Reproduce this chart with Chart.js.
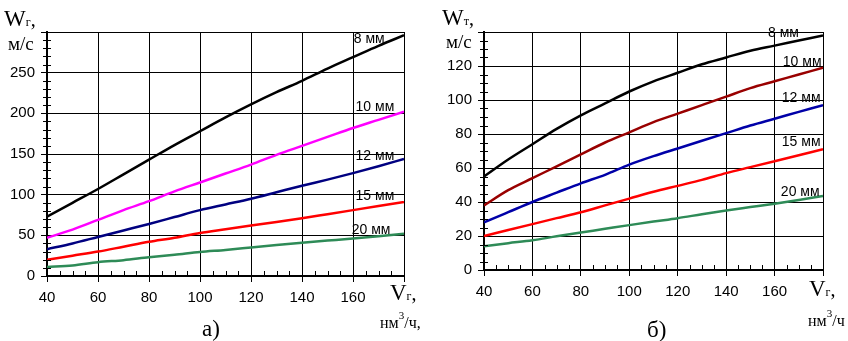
<!DOCTYPE html>
<html><head><meta charset="utf-8">
<script src="https://cdn.jsdelivr.net/npm/chart.js@4/dist/chart.umd.min.js"></script>
<style>
html,body{margin:0;padding:0;background:#fff;}
#wrap{position:relative;width:848px;height:341px;overflow:hidden;}
canvas{position:absolute;top:0;}
#c1{left:0;} #c2{left:424px;}
</style></head>
<body><div id="wrap"><canvas id="c1" width="424" height="341"></canvas><canvas id="c2" width="424" height="341"></canvas></div>
<script>
// Gas flow, нм3/ч
const flowX = [40,50,60,70,80,90,100,110,120,130,140,150,160,170,180];
// Chart а) W_г, м/с
const a8  = [73,90,107,125,143,161,178,195,211,226,240,255,269,283,296];
const a10 = [47,57,69,81,92,104,115,126,137,149,160,171,182,192,202];
const a12 = [33,40,48,56,64,72.5,81,88,95,103,111,118.5,126.5,135,144];
const a15 = [20,25,30,36,42,47,53,57.5,62,66.5,71,76,81,86,91];
const a20 = [11,13,17,19.5,23,26,29.5,32,35,38,41,43.5,46,49,52];
// Chart б) W_т, м/с
const b8  = [55,65,74,83,91,98,105,111,116,121,125,129,132,135,138];
const b10 = [38,47,54,61,68,75,81,87,92,97,102,107,111,115,119];
const b12 = [28,34,40,45.5,51,56,62,67,71.5,76,80.5,85,89,93,97];
const b15 = [20,23.5,27,30.5,34,38,42,46,49.5,53,57,60.5,64,67.5,71];
const b20 = [14,15.8,17.5,19.8,22,24.2,26.4,28.5,30.5,32.8,35,37,39,41.2,43.5];
const seriesNames = ['8 мм','10 мм','12 мм','15 мм','20 мм'];
const xTicks = [40,60,80,100,120,140,160];
const yTicksA = [0,50,100,150,200,250];
const yTicksB = [0,20,40,60,80,100,120];

const SANS = '"Liberation Sans", Arial, sans-serif';
const SERIF = '"Liberation Serif", "Times New Roman", serif';

function ds(vals, color){
  return {data: flowX.map((x,i)=>({x:x,y:vals[i]})), borderColor: color, borderWidth: 2.5,
    pointRadius: 0, fill:false, cubicInterpolationMode:'monotone', tension:0.4};
}

function makeChart(id, cfg){
  const overlay = {
    id:'overlay',
    afterDraw(chart){
      const ctx = chart.ctx, xs = chart.scales.x, ys = chart.scales.y, ca = chart.chartArea;
      ctx.save();
      ctx.strokeStyle = '#000'; ctx.lineWidth = 1;
      for(let v=0; v<=cfg.ymax; v+=cfg.yminor){
        if(v % cfg.ystep === 0) continue;
        const p = Math.round(ys.getPixelForValue(v))+0.5;
        ctx.beginPath(); ctx.moveTo(ca.left-4,p); ctx.lineTo(ca.left+4,p); ctx.stroke();
      }
      for(let v=40; v<=180; v+=5){
        if(v % 20 === 0) continue;
        const p = Math.round(xs.getPixelForValue(v))+0.5;
        ctx.beginPath(); ctx.moveTo(p,ca.bottom); ctx.lineTo(p,ca.bottom-5); ctx.stroke();
      }
      ctx.fillStyle = '#000'; ctx.font = '14px ' + SANS; ctx.textBaseline = 'middle'; ctx.textAlign='left';
      cfg.labels.forEach((l,i)=>{
        ctx.fillText(seriesNames[i], xs.getPixelForValue(l[0]), ys.getPixelForValue(l[1]));
      });
      ctx.textBaseline = 'alphabetic';
      const t = cfg.titles;
      ctx.font = '23px ' + SERIF; ctx.fillText('W', t.wx, t.wy);
      let wW = ctx.measureText('W').width;
      ctx.font = '12px ' + SERIF; ctx.fillText(cfg.sub, t.wx+wW, t.wy);
      let sw = ctx.measureText(cfg.sub).width;
      ctx.font = '20px ' + SERIF; ctx.fillText(',', t.wx+wW+sw, t.wy);
      ctx.font = '19px ' + SERIF; ctx.fillText('м/с', t.mx, t.my);
      ctx.font = '23px ' + SERIF; ctx.fillText('V', t.vx, t.vy);
      let vW = ctx.measureText('V').width;
      ctx.font = '12px ' + SERIF; ctx.fillText('г', t.vx+vW, t.vy);
      let gw = ctx.measureText('г').width;
      ctx.font = '20px ' + SERIF; ctx.fillText(',', t.vx+vW+gw, t.vy);
      ctx.font = '16px ' + SERIF; ctx.fillText('нм', t.nx, t.ny);
      let nw = ctx.measureText('нм').width;
      ctx.font = '11px ' + SERIF; ctx.fillText('3', t.nx+nw, t.ny-9);
      let tw = ctx.measureText('3').width;
      ctx.font = '16px ' + SERIF; ctx.fillText(cfg.unitTail, t.nx+nw+tw, t.ny);
      ctx.font = '23px ' + SERIF; ctx.fillText(cfg.caption, t.cx, t.cy);
      ctx.restore();
    }
  };
  return new Chart(document.getElementById(id), {
    type:'line',
    data:{datasets: cfg.data},
    options:{
      responsive:false, animation:false, devicePixelRatio:1,
      layout:{padding:{top:32, right:cfg.padRight, left:0, bottom:0}},
      plugins:{legend:{display:false}, tooltip:{enabled:false}},
      scales:{
        x:{type:'linear', min:40, max:180,
          afterBuildTicks(s){ s.ticks = [40,60,80,100,120,140,160,180].map(v=>({value:v})); },
          afterFit(s){ s.height = cfg.xh; },
          ticks:{color:'#000', font:{family:SANS, size:15}, padding:7, maxRotation:0,
            callback:(v)=> xTicks.includes(v) ? String(v) : ''},
          grid:{color:'#000', lineWidth:1, tickLength:6, tickColor:'#000'},
          border:{color:'#000', width:2}},
        y:{type:'linear', min:0, max:cfg.ymax,
          afterBuildTicks(s){ const a=[]; for(let v=0; v<=cfg.ymax; v+=cfg.ystep) a.push({value:v}); s.ticks=a; },
          afterFit(s){ s.width = cfg.yw; },
          ticks:{color:'#000', font:{family:SANS, size:15}, padding:6,
            callback:(v)=> cfg.yTicks.includes(v) ? String(v) : ''},
          grid:{color:'#000', lineWidth:1, tickLength:6, tickColor:'#000'},
          border:{color:'#000', width:2}}
      }
    },
    plugins:[overlay]
  });
}

makeChart('c1', {
  data:[ds(a8,'#000000'), ds(a10,'#ff00ff'), ds(a12,'#000080'), ds(a15,'#ff0000'), ds(a20,'#2e8b57')],
  ymax:300, ystep:50, yminor:10, yTicks:yTicksA, yw:47, xh:65, padRight:20,
  labels:[[160.3,291],[161,207],[161,147.6],[161,97.6],[159.5,56]],
  sub:'г', unitTail:'/ч,', caption:'а)',
  titles:{wx:4, wy:26, mx:8, my:50, vx:390, vy:300, nx:380, ny:328, cx:202, cy:336}
});
makeChart('c2', {
  data:[ds(b8,'#000000'), ds(b10,'#990000'), ds(b12,'#0000a8'), ds(b15,'#ff0000'), ds(b20,'#2e8b57')],
  ymax:140, ystep:20, yminor:5, yTicks:yTicksB, yw:60, xh:71, padRight:25,
  labels:[[157.3,139.4],[163.4,122.5],[163,101],[163,75.5],[162.6,46]],
  sub:'т', unitTail:'/ч', caption:'б)',
  titles:{wx:18, wy:25, mx:22, my:48, vx:385, vy:296, nx:384, ny:326, cx:223, cy:337}
});
</script>
</body></html>
